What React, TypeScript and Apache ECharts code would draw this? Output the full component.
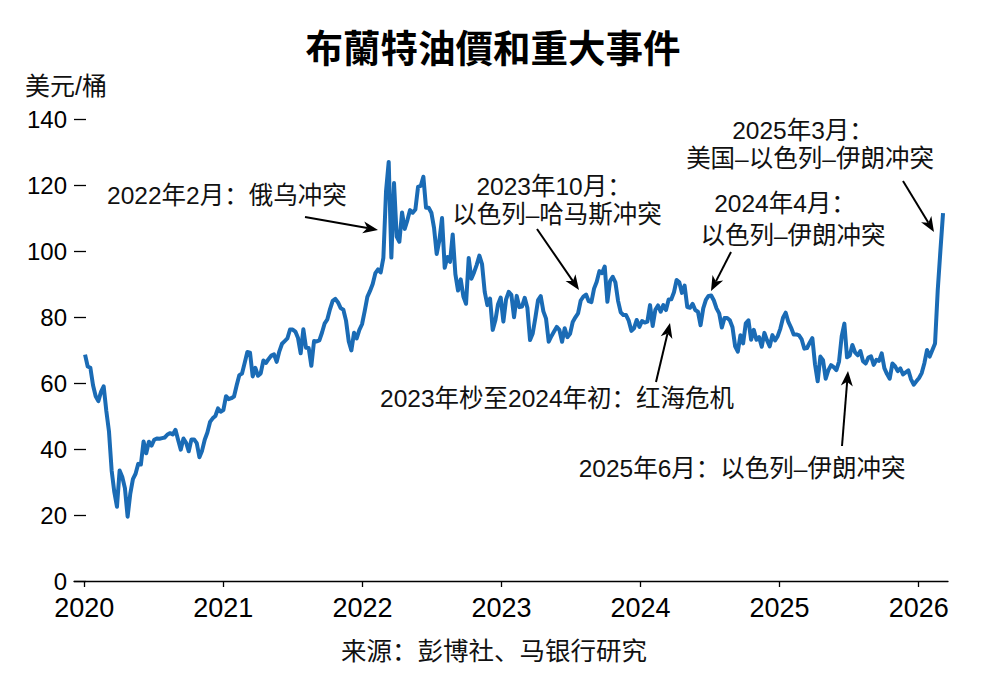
import React, { useEffect, useRef } from "react";
import * as echarts from "echarts";

// Weekly Brent prices (USD/bbl)
const yearStarts: Array<[number, number, number]> = [
  [2020, 0, 3],
  [2021, 0, 1],
  [2022, 0, 7],
  [2023, 0, 6],
  [2024, 0, 5],
  [2025, 0, 3],
  [2026, 0, 2],
];

const brent2020 = [
  68.6, 65.0, 64.6, 59.3, 56.0, 54.5, 57.3, 59.0, 51.5, 45.3,
  33.5, 27.0, 22.5, 33.5, 31.5, 28.1, 19.5, 26.4, 30.9, 32.5,
  35.5, 35.3, 42.3, 38.7, 42.2, 41.0, 42.8, 43.2, 43.1, 43.3,
  43.5, 44.4, 44.8, 44.4, 45.8, 42.7, 39.8, 43.2, 41.9, 39.3,
  42.9, 42.9, 41.8, 37.5, 39.5, 42.8, 45.0, 48.2, 49.3, 50.0,
  52.3, 51.3,
];
const brent2021 = [
  51.8, 56.0, 55.1, 55.4, 55.9, 59.3, 62.4, 62.9, 66.1, 69.4,
  69.2, 62.0, 64.6, 62.2, 62.9, 66.8, 66.1, 67.3, 68.3, 68.7,
  66.4, 69.6, 71.9, 72.7, 73.5, 76.2, 76.2, 75.6, 73.6, 69.0,
  76.3, 70.7, 70.6, 65.2, 72.7, 72.6, 72.9, 75.3, 78.1, 79.3,
  82.4, 84.9, 85.5, 84.4, 82.7, 82.2, 78.9, 72.7, 69.9, 75.2,
  73.5, 76.1, 77.8,
];
const brent2022 = [
  81.8, 86.1, 87.9, 90.0, 93.3, 94.4, 93.5, 97.9, 118.1, 127.0,
  98.0, 120.6, 104.4, 102.8, 111.7, 106.7, 109.3, 112.4, 111.6, 112.6,
  119.4, 119.7, 122.5, 113.1, 113.1, 111.6, 107.0, 99.1, 103.2, 110.0,
  94.9, 98.2, 96.7, 105.0, 93.0, 88.0, 91.4, 86.2, 84.0, 97.9,
  91.6, 93.5, 95.8, 98.6, 96.0, 87.6, 83.6, 85.6, 76.1, 79.0,
  83.9, 85.9,
];
const brent2023 = [
  78.6, 85.3, 87.6, 86.7, 79.9, 86.4, 83.0, 83.2, 85.8, 82.8,
  73.0, 75.0, 79.8, 85.1, 86.3, 81.7, 79.5, 72.5, 74.2, 75.6,
  77.0, 76.1, 72.5, 76.6, 73.9, 74.9, 78.5, 79.9, 81.1, 85.0,
  86.2, 86.8, 84.8, 84.5, 88.6, 90.7, 93.9, 93.3, 95.3, 84.6,
  90.9, 92.2, 90.5, 84.9, 81.4, 80.6, 80.6, 78.9, 75.8, 76.6,
  79.1, 77.0,
];
const brent2024 = [
  78.8, 78.3, 78.6, 83.6, 77.3, 82.2, 83.5, 81.6, 83.6, 82.1,
  85.3, 85.4, 87.5, 91.2, 90.5, 87.3, 89.5, 83.0, 82.8, 84.0,
  82.1, 81.6, 77.5, 82.6, 85.2, 86.4, 86.5, 85.0, 82.6, 81.1,
  76.8, 79.7, 79.7, 79.0, 76.9, 71.1, 69.5, 74.5, 72.0, 78.1,
  79.0, 73.1, 76.1, 73.1, 73.9, 71.0, 75.2, 72.9, 71.1, 74.5,
  72.9, 74.2,
];
const brent2025 = [
  76.5, 79.8, 81.3, 78.5, 76.8, 74.7, 74.7, 74.4, 73.2, 70.4,
  70.6, 72.2, 73.6, 65.6, 60.5, 68.0, 66.9, 61.3, 63.9, 65.4,
  64.8, 63.9, 66.5, 74.2, 78.0, 67.8, 68.3, 71.5, 69.3, 68.4,
  69.7, 66.6, 65.9, 67.7, 68.1, 65.5, 67.0, 66.7, 69.0, 64.5,
  62.7, 61.3, 65.9, 65.1, 63.6, 64.4, 62.6, 63.2, 63.8, 61.1,
  59.5, 60.5,
];
const brent2026 = [61.5, 63.0, 66.0, 70.0, 68.0, 70.0, 72.0, 88.0, 100.0, 111.5];

const yearBlocks = [brent2020, brent2021, brent2022, brent2023, brent2024, brent2025, brent2026];

const yearTicks = [2020, 2021, 2022, 2023, 2024, 2025, 2026];
const yTicks = [0, 20, 40, 60, 80, 100, 120, 140];

const TITLE = "布蘭特油價和重大事件";
const UNIT = "美元/桶";
const SOURCE = "来源：彭博社、马银行研究";

const FONT = "'Liberation Sans', Arial, 'Noto Sans CJK SC', sans-serif";
const LINE_COLOR = "#1a6bb5";
const ANN = 24.5;

function fracYear(y: number, m: number, d: number): number {
  const t = new Date(y, m, d);
  const yy = t.getFullYear();
  const a = new Date(yy, 0, 1).getTime();
  const b = new Date(yy + 1, 0, 1).getTime();
  return yy + (t.getTime() - a) / (b - a);
}

function buildData(): Array<[number, number]> {
  const out: Array<[number, number]> = [];
  yearBlocks.forEach((arr, i) => {
    const [y, m, d] = yearStarts[i];
    arr.forEach((v, k) => {
      out.push([fracYear(y, m, d + 7 * k), v]);
    });
  });
  return out;
}

function txt(text: string, x: number, y: number, fontSize: number, align = "center", extra: any = {}) {
  return {
    type: "text",
    x,
    y,
    silent: true,
    style: {
      text,
      fontSize,
      fontFamily: FONT,
      fill: "#111",
      align,
      verticalAlign: "middle",
      textAlign: align,
      textVerticalAlign: "middle",
      ...extra,
    },
  };
}

function arrow(x1: number, y1: number, x2: number, y2: number) {
  const dx = x2 - x1;
  const dy = y2 - y1;
  const L = Math.hypot(dx, dy);
  const ux = dx / L;
  const uy = dy / L;
  const hl = 15;
  const hw = 6;
  const bx = x2 - ux * hl;
  const by = y2 - uy * hl;
  const px = -uy;
  const py = ux;
  const nx = x2 - ux * hl * 0.72;
  const ny = y2 - uy * hl * 0.72;
  return [
    {
      type: "line",
      silent: true,
      shape: { x1, y1, x2: nx, y2: ny },
      style: { stroke: "#000", lineWidth: 2 },
    },
    {
      type: "polygon",
      silent: true,
      shape: {
        points: [
          [x2, y2],
          [bx + px * hw, by + py * hw],
          [nx, ny],
          [bx - px * hw, by - py * hw],
        ],
      },
      style: { fill: "#000" },
    },
  ];
}

export default function App() {
  const ref = useRef<HTMLDivElement | null>(null);

  useEffect(() => {
    if (!ref.current) return;
    const chart = echarts.init(ref.current, undefined, { renderer: "svg" });

    const graphics: any[] = [
      txt(TITLE, 493, 45, 37.5, "center", { fontWeight: "bold", fontFamily: "'Noto Sans CJK TC', 'Noto Sans CJK SC', sans-serif", fill: "#000" }),
      txt(UNIT, 25, 86, 25, "left"),
      txt(SOURCE, 494, 651, 25.5, "center"),
      txt("2022年2月：俄乌冲突", 107, 195, ANN, "left"),
      txt("2023年10月：", 554, 186, ANN),
      txt("以色列–哈马斯冲突", 557, 214, ANN),
      txt("2024年4月：", 785, 203, ANN),
      txt("以色列–伊朗冲突", 793, 235, ANN),
      txt("2025年3月：", 803, 130, ANN),
      txt("美国–以色列–伊朗冲突", 810, 158, ANN),
      txt("2023年杪至2024年初：红海危机", 557, 398, ANN),
      txt("2025年6月：以色列–伊朗冲突", 742, 468, ANN),
      ...arrow(305, 217, 378, 230),
      ...arrow(537, 229, 579, 290),
      ...arrow(731, 252, 711, 291),
      ...arrow(903, 181, 934, 232),
      ...arrow(656, 382, 670, 323),
      ...arrow(842, 446, 848, 371),
    ];

    chart.setOption({
      animation: false,
      backgroundColor: "#fff",
      grid: { left: 74, right: 38, top: 119, bottom: 109, containLabel: false },
      xAxis: {
        type: "value",
        min: fracYear(2019, 11, 5),
        max: fracYear(2026, 2, 19),
        axisLine: { show: true, lineStyle: { color: "#000", width: 1.3 } },
        axisTick: { show: true, length: 6, customValues: yearTicks, lineStyle: { color: "#000", width: 1.3 } },
        axisLabel: {
          customValues: yearTicks,
          formatter: (v: number) => String(Math.round(v)),
          fontSize: 27,
          lineHeight: 28,
          color: "#000",
          fontFamily: FONT,
          margin: 13,
        },
        splitLine: { show: false },
      },
      yAxis: {
        type: "value",
        min: yTicks[0],
        max: yTicks[yTicks.length - 1],
        interval: 20,
        axisLine: { show: false },
        axisTick: { show: true, inside: true, length: 12, lineStyle: { color: "#000", width: 1.3 } },
        axisLabel: { fontSize: 24, lineHeight: 20, color: "#000", margin: 7, fontFamily: FONT },
        splitLine: { show: false },
      },
      series: [
        {
          type: "line",
          data: buildData(),
          showSymbol: false,
          symbol: "none",
          lineStyle: { color: LINE_COLOR, width: 4, join: "round" },
          z: 3,
        },
      ],
      graphic: graphics,
    });
    return () => chart.dispose();
  }, []);

  return (
    <div
      ref={ref}
      style={{ position: "absolute", left: 0, top: 0, width: 986, height: 690, background: "#fff" }}
    />
  );
}
